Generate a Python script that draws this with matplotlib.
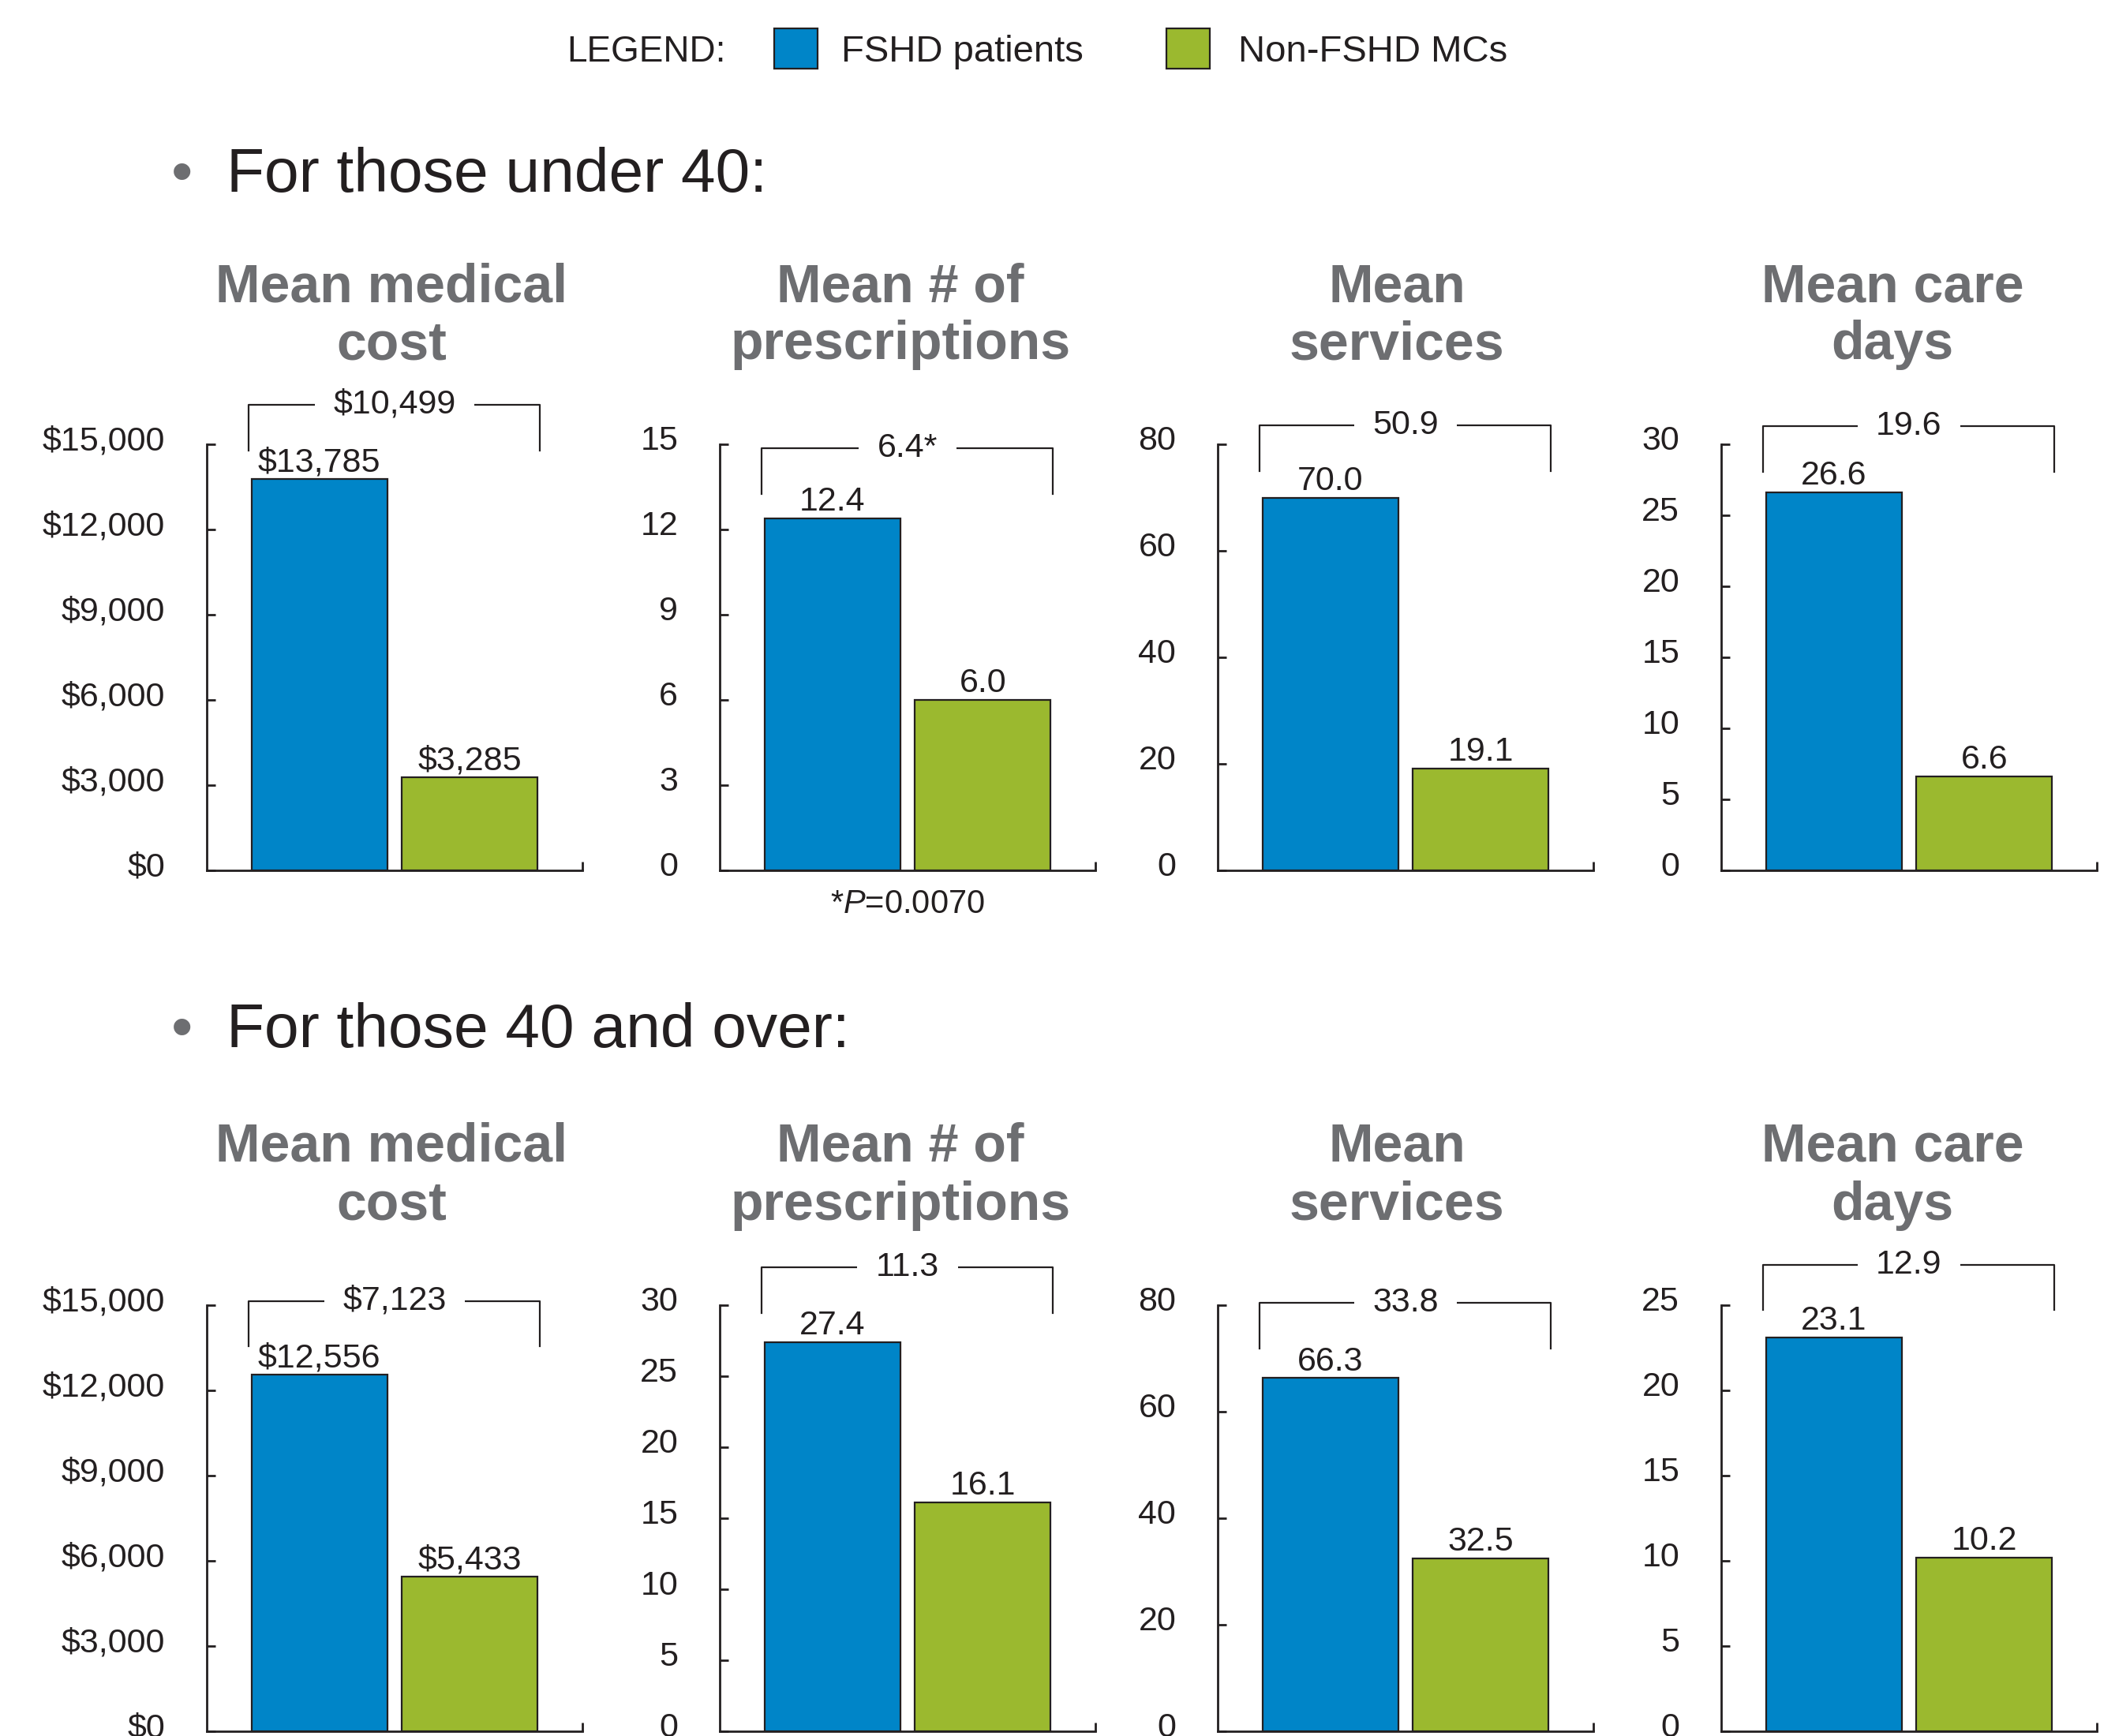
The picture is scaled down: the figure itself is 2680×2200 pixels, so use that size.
import matplotlib
matplotlib.use('Agg')
import matplotlib.pyplot as plt
import matplotlib.transforms as mtransforms
from matplotlib.patches import Rectangle

plt.rcParams['font.family'] = ['Liberation Sans', 'DejaVu Sans']
plt.rcParams['mathtext.fontset'] = 'custom'
plt.rcParams['mathtext.rm'] = 'Liberation Sans'
plt.rcParams['mathtext.it'] = 'Liberation Sans:italic'

# --- data ---
groups = ['FSHD patients', 'Non-FSHD MCs']
sections = ['For those under 40:', 'For those 40 and over:']
titles = [['Mean medical', 'cost'], ['Mean # of', 'prescriptions'],
          ['Mean', 'services'], ['Mean care', 'days']]

under40_fshd = [13785, 12.4, 70.0, 26.6]
under40_mc = [3285, 6.0, 19.1, 6.6]
under40_diff = ['$10,499', '6.4*', '50.9', '19.6']

over40_fshd = [12556, 27.4, 66.3, 23.1]
over40_mc = [5433, 16.1, 32.5, 10.2]
over40_diff = ['$7,123', '11.3', '33.8', '12.9']

# y axis (max, step) per panel
under40_axis = [(15000, 3000), (15, 3), (80, 20), (30, 5)]
over40_axis = [(15000, 3000), (30, 5), (80, 20), (25, 5)]

footnote = '*$P$=0.0070'

# --- style / layout ---
blue = '#0085c8'
green = '#9bb92f'
dark = '#231f20'
grey = '#6d6e71'
num_size = 31

W, H = 2680, 2200
fig = plt.figure(figsize=(26.8, 22), dpi=100)

def fx(px):
    return px / W

def fy(py):
    return 1 - py / H

col_left = [262, 912, 1543, 2181]
col_w = 476
row_top = [563, 1654]
row_h = 540
title_x = [496, 1141, 1770, 2398]
title_y = [(364, 437), (1454, 1528)]
heading_y = [222, 1307]
bracket_top = [[1.093, 0.99, 1.044, 1.043], [1.01, 1.089, 1.006, 1.095]]

rows = [(under40_fshd, under40_mc, under40_diff, under40_axis),
        (over40_fshd, over40_mc, over40_diff, over40_axis)]

# nudge tick labels up a little, like the original
label_shift = mtransforms.ScaledTranslation(0, 6 / 72, fig.dpi_scale_trans)

for r, (fshd, mc, diff, axis) in enumerate(rows):
    # section heading
    fig.text(fx(231), fy(heading_y[r]), '\u2022', ha='center', va='center',
             fontsize=56, color=grey)
    fig.text(fx(287), fy(heading_y[r]), sections[r], ha='left', va='center',
             fontsize=56.5, color=dark)

    for c in range(4):
        ax = fig.add_axes([fx(col_left[c]), fy(row_top[r] + row_h),
                           col_w / W, row_h / H])
        vals = [fshd[c], mc[c]]
        ymax, step = axis[c]

        ax.bar([0, 1], vals, width=0.905, color=[blue, green],
               edgecolor=dark, linewidth=1.6, zorder=2)
        ax.set_xlim(-0.75, 1.75)
        ax.set_ylim(0, ymax)

        ticks = list(range(0, ymax + 1, step))
        ax.set_yticks(ticks)
        if c == 0:
            ax.set_yticklabels([f'${t:,}' for t in ticks])
        else:
            ax.set_yticklabels([str(t) for t in ticks])
        ax.set_xticks([1.75])
        ax.set_xticklabels([''])
        ax.tick_params(axis='y', direction='in', length=8, width=2, pad=38,
                       labelsize=num_size, colors=dark)
        ax.tick_params(axis='x', direction='in', length=8, width=2, colors=dark)
        for lab in ax.get_yticklabels():
            lab.set_transform(lab.get_transform() + label_shift)
        for s in ['top', 'right']:
            ax.spines[s].set_visible(False)
        for s in ['left', 'bottom']:
            ax.spines[s].set_linewidth(2)
            ax.spines[s].set_color(dark)

        # values on bars
        for i, v in enumerate(vals):
            txt = f'${v:,.0f}' if c == 0 else f'{v:.1f}'
            ax.annotate(txt, (i, v), xytext=(0, 7), textcoords='offset points',
                        ha='center', va='baseline', fontsize=num_size,
                        color=dark, zorder=6, annotation_clip=False)

        # difference bracket
        yb = bracket_top[r][c] * ymax
        drop = 0.107 * ymax
        ax.plot([-0.47, -0.47, 1.465, 1.465], [yb - drop, yb, yb, yb - drop],
                color=dark, lw=1.6, clip_on=False, zorder=3)
        ax.text(0.5, yb, diff[c], ha='center', va='center', fontsize=num_size,
                color=dark, zorder=4, clip_on=False,
                bbox=dict(boxstyle='square,pad=0.55', fc='white', ec='none'))

        # panel title
        for k, line in enumerate(titles[c]):
            fig.text(fx(title_x[c]), fy(title_y[r][k]), line, ha='center',
                     va='center', fontsize=49, fontweight='bold', color=grey)

        if r == 0 and c == 1:
            ax.text(0.5, -0.08, footnote, transform=ax.transAxes,
                    ha='center', va='center', fontsize=30, color=dark)

# legend
fig.text(fx(718), fy(66), 'LEGEND:', ha='left', va='center', fontsize=33,
         color=dark)
for x0, tx, col, lab in [(981, 1066, blue, groups[0]),
                         (1478, 1569, green, groups[1])]:
    fig.add_artist(Rectangle((fx(x0), fy(87)), 55 / W, 51 / H,
                             transform=fig.transFigure, fc=col, ec=dark, lw=1.6))
    fig.text(fx(tx), fy(66), lab, ha='left', va='center', fontsize=34,
             color=dark)

fig.savefig('out.png', dpi=100, facecolor='white')
